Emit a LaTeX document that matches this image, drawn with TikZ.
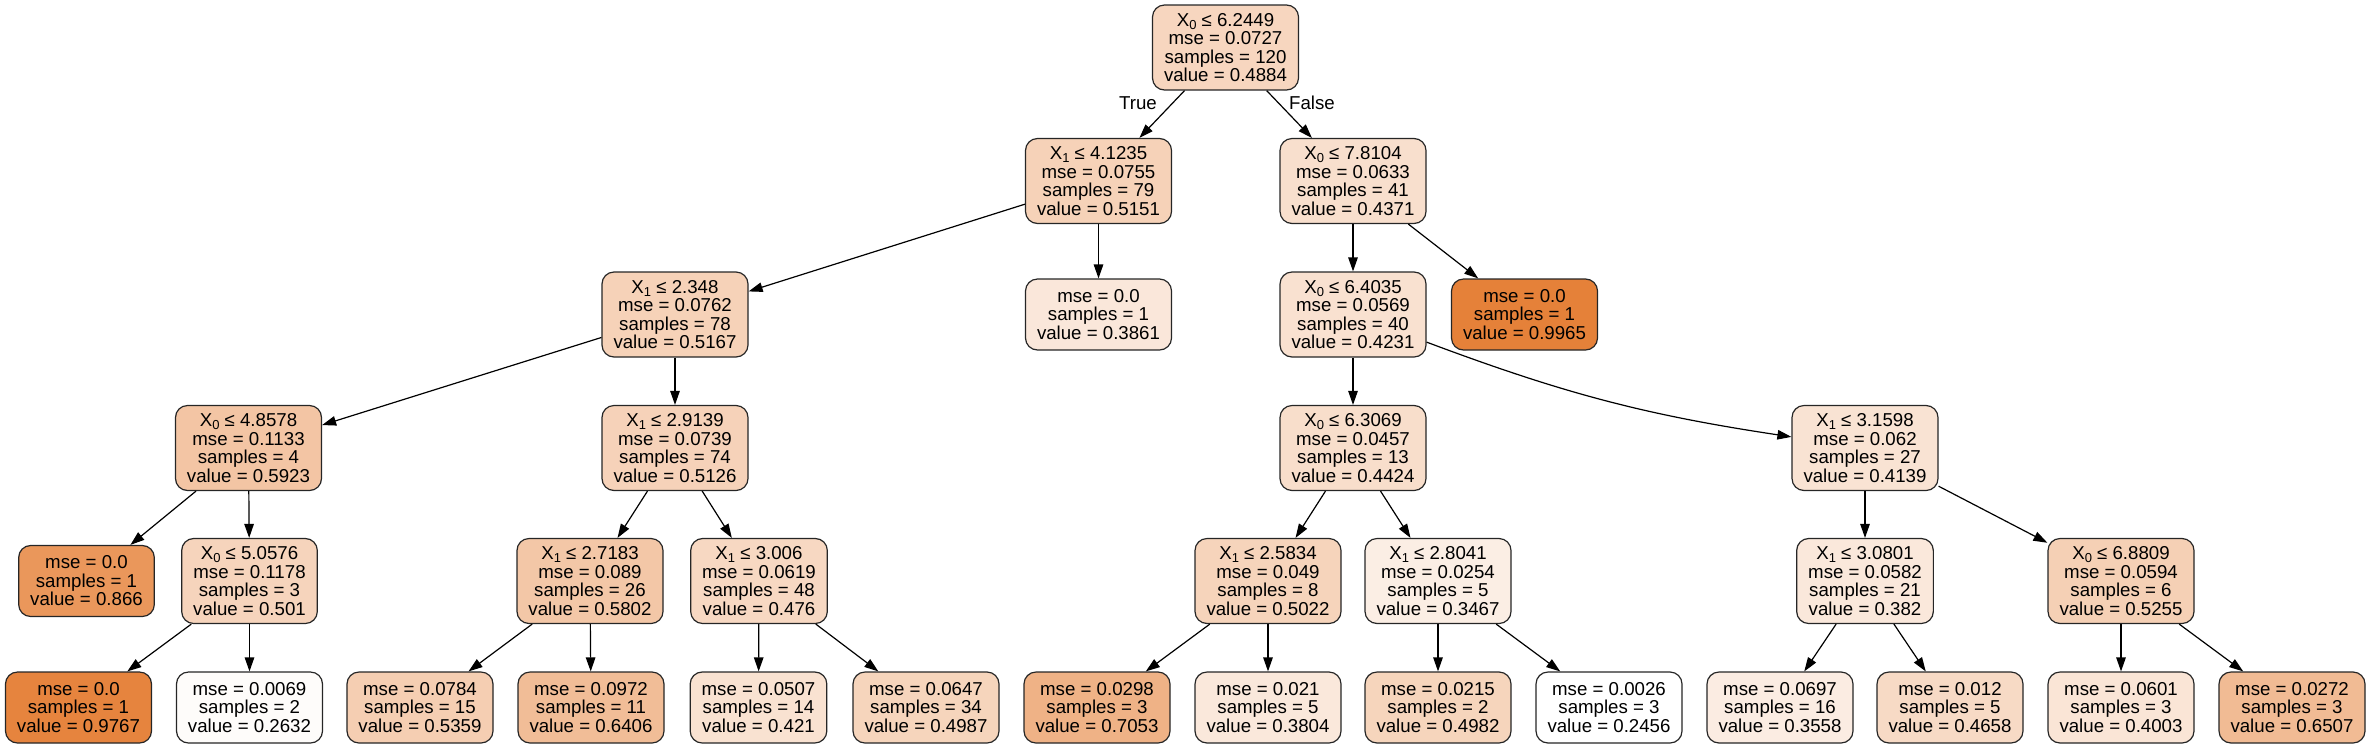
\documentclass[tikz,border=0pt]{standalone}
\usepackage{fontspec}
\setmainfont{Liberation Sans}
\usetikzlibrary{arrows.meta}
\definecolor{dtor}{RGB}{229,129,57}
\newcommand{\Xs}[1]{X\raisebox{-3pt}{\fontsize{13pt}{13pt}\selectfont #1}}
\tikzset{
 tn/.style={draw=black!85, line width=1.2pt, rounded corners=12pt, align=center, inner xsep=11.5pt, inner ysep=4pt, font=\fontsize{18.67pt}{18.5pt}\selectfont},
 splitnode/.style={tn, minimum height=85pt},
 leafnode/.style={tn, minimum height=71pt},
 conn/.style={-{Triangle[length=14pt,width=9.5pt]}, line width=1.2pt},
 elab/.style={font=\fontsize{18.67pt}{18.5pt}\selectfont, inner sep=0pt}
}
\begin{document}
\begin{tikzpicture}[x=1pt,y=-1pt]
\useasboundingbox (0,0) rectangle (2371,748);
% rank 0
\node[splitnode, fill=dtor!32.3] (n0) at (1225.5,47.5) {\Xs{0} ≤ 6.2449\\mse = 0.0727\\samples = 120\\value = 0.4884};
% rank 1
\node[splitnode, fill=dtor!35.9] (n1) at (1098.5,181) {\Xs{1} ≤ 4.1235\\mse = 0.0755\\samples = 79\\value = 0.5151};
\node[splitnode, fill=dtor!25.5] (n2) at (1353,181) {\Xs{0} ≤ 7.8104\\mse = 0.0633\\samples = 41\\value = 0.4371};
% rank 2
\node[splitnode, fill=dtor!36.1] (n3) at (675,314.5) {\Xs{1} ≤ 2.348\\mse = 0.0762\\samples = 78\\value = 0.5167};
\node[leafnode, fill=dtor!18.7] (n4) at (1098.5,314.5) {mse = 0.0\\samples = 1\\value = 0.3861};
\node[splitnode, fill=dtor!23.6] (n5) at (1353,314.5) {\Xs{0} ≤ 6.4035\\mse = 0.0569\\samples = 40\\value = 0.4231};
\node[leafnode, fill=dtor] (n6) at (1524.5,314.5) {mse = 0.0\\samples = 1\\value = 0.9965};
% rank 3
\node[splitnode, fill=dtor!46.2] (n7) at (248.5,448) {\Xs{0} ≤ 4.8578\\mse = 0.1133\\samples = 4\\value = 0.5923};
\node[splitnode, fill=dtor!35.6] (n8) at (675,448) {\Xs{1} ≤ 2.9139\\mse = 0.0739\\samples = 74\\value = 0.5126};
\node[splitnode, fill=dtor!26.2] (n9) at (1353,448) {\Xs{0} ≤ 6.3069\\mse = 0.0457\\samples = 13\\value = 0.4424};
\node[splitnode, fill=dtor!22.4] (n10) at (1865,448) {\Xs{1} ≤ 3.1598\\mse = 0.062\\samples = 27\\value = 0.4139};
% rank 4
\node[leafnode, fill=dtor!82.6] (n11) at (86.5,581) {mse = 0.0\\samples = 1\\value = 0.866};
\node[splitnode, fill=dtor!34.0] (n12) at (249.5,581) {\Xs{0} ≤ 5.0576\\mse = 0.1178\\samples = 3\\value = 0.501};
\node[splitnode, fill=dtor!44.6] (n13) at (590,581) {\Xs{1} ≤ 2.7183\\mse = 0.089\\samples = 26\\value = 0.5802};
\node[splitnode, fill=dtor!30.7] (n14) at (759,581) {\Xs{1} ≤ 3.006\\mse = 0.0619\\samples = 48\\value = 0.476};
\node[splitnode, fill=dtor!34.2] (n15) at (1268,581) {\Xs{1} ≤ 2.5834\\mse = 0.049\\samples = 8\\value = 0.5022};
\node[splitnode, fill=dtor!13.5] (n16) at (1438,581) {\Xs{1} ≤ 2.8041\\mse = 0.0254\\samples = 5\\value = 0.3467};
\node[splitnode, fill=dtor!18.2] (n17) at (1865,581) {\Xs{1} ≤ 3.0801\\mse = 0.0582\\samples = 21\\value = 0.382};
\node[splitnode, fill=dtor!37.3] (n18) at (2121,581) {\Xs{0} ≤ 6.8809\\mse = 0.0594\\samples = 6\\value = 0.5255};
% rank 5
\node[leafnode, fill=dtor!97.4] (n19) at (78.5,707.5) {mse = 0.0\\samples = 1\\value = 0.9767};
\node[leafnode, fill=dtor!2.3] (n20) at (249.5,707.5) {mse = 0.0069\\samples = 2\\value = 0.2632};
\node[leafnode, fill=dtor!38.7] (n21) at (420,707.5) {mse = 0.0784\\samples = 15\\value = 0.5359};
\node[leafnode, fill=dtor!52.6] (n22) at (591,707.5) {mse = 0.0972\\samples = 11\\value = 0.6406};
\node[leafnode, fill=dtor!23.4] (n23) at (758.5,707.5) {mse = 0.0507\\samples = 14\\value = 0.421};
\node[leafnode, fill=dtor!33.7] (n24) at (926,707.5) {mse = 0.0647\\samples = 34\\value = 0.4987};
\node[leafnode, fill=dtor!61.2] (n25) at (1097,707.5) {mse = 0.0298\\samples = 3\\value = 0.7053};
\node[leafnode, fill=dtor!18.0] (n26) at (1268,707.5) {mse = 0.021\\samples = 5\\value = 0.3804};
\node[leafnode, fill=dtor!33.6] (n27) at (1438,707.5) {mse = 0.0215\\samples = 2\\value = 0.4982};
\node[leafnode, fill=white] (n28) at (1609,707.5) {mse = 0.0026\\samples = 3\\value = 0.2456};
\node[leafnode, fill=dtor!14.7] (n29) at (1780,707.5) {mse = 0.0697\\samples = 16\\value = 0.3558};
\node[leafnode, fill=dtor!29.3] (n30) at (1950,707.5) {mse = 0.012\\samples = 5\\value = 0.4658};
\node[leafnode, fill=dtor!20.6] (n31) at (2121,707.5) {mse = 0.0601\\samples = 3\\value = 0.4003};
\node[leafnode, fill=dtor!53.9] (n32) at (2292,707.5) {mse = 0.0272\\samples = 3\\value = 0.6507};
% edge labels
\node[elab] (lt) at (1138,103) {True};
\node[elab] (lf) at (1312,103) {False};
% connectors
\draw[conn] (n0) -- (n1);
\draw[conn] (n0) -- (n2);
\draw[conn] (n1) -- (n3);
\draw[conn] (n1) -- (n4);
\draw[conn] (n2) -- (n5);
\draw[conn] (n2) -- (n6);
\draw[conn] (n3) -- (n7);
\draw[conn] (n3) -- (n8);
\draw[conn] (n5) -- (n9);
\draw[conn] (n5) to[bend right=6] (n10);
\draw[conn] (n7) -- (n11);
\draw[conn] (n7) -- (n12);
\draw[conn] (n8) -- (n13);
\draw[conn] (n8) -- (n14);
\draw[conn] (n9) -- (n15);
\draw[conn] (n9) -- (n16);
\draw[conn] (n10) -- (n17);
\draw[conn] (n10) -- (n18);
\draw[conn] (n12) -- (n19);
\draw[conn] (n12) -- (n20);
\draw[conn] (n13) -- (n21);
\draw[conn] (n13) -- (n22);
\draw[conn] (n14) -- (n23);
\draw[conn] (n14) -- (n24);
\draw[conn] (n15) -- (n25);
\draw[conn] (n15) -- (n26);
\draw[conn] (n16) -- (n27);
\draw[conn] (n16) -- (n28);
\draw[conn] (n17) -- (n29);
\draw[conn] (n17) -- (n30);
\draw[conn] (n18) -- (n31);
\draw[conn] (n18) -- (n32);
\end{tikzpicture}
\end{document}
